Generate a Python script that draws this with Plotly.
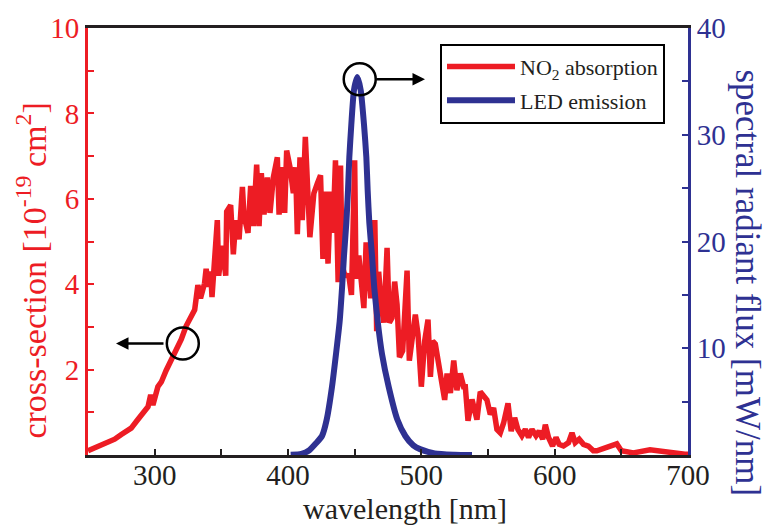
import plotly.graph_objects as go

# ---- data ----
no2_nm = [250, 260, 270, 275, 282.4, 287.4, 292.4, 295, 297, 298.7, 302.4, 305, 308.6, 312.4, 316, 320,
          323.6, 327.4, 330, 332.4, 334.4, 337.4, 338.6, 340.3, 342, 343, 344.5, 347, 348, 350.8, 353.3,
          354, 357, 359, 360.8, 363.3, 365.8, 367, 370, 372, 374, 376.5, 378.3, 380, 382, 384.5, 386.5,
          389, 392, 393.3, 395.8, 397.5, 399, 401.5, 404, 405.7, 407, 409, 410.7, 413, 416.4, 419.4, 422,
          424.4, 426.2, 428.2, 430, 432, 433.7, 435.6, 437.6, 439.4, 440.6, 442.6, 445.6, 447.6, 450, 451,
          453.1, 455, 456.9, 458.6, 460.1, 462, 463.6, 465.1, 466.5, 468, 470, 471.8, 474.3, 476, 478, 480,
          481.8, 483.6, 486, 489.3, 491, 493.6, 495.5, 497.5, 500, 502.5, 505, 506.8, 508.5, 510.5, 513,
          515.5, 517.5, 519.3, 521.8, 524.3, 526.7, 529.2, 531.7, 533, 535, 538, 541.7, 544.2, 546.7,
          549.2, 551.7, 554.2, 556.7, 559.2, 561.7, 565, 567.4, 570, 572.4, 575.4, 578, 580.4, 583, 586,
          588.4, 591, 593, 595.4, 598.4, 601, 603.4, 606.6, 610.4, 613, 615.4, 618.4, 621.6, 625.3, 629,
          631.6, 639, 646.6, 650, 659, 671.5, 684, 697.7, 700]
no2_xs = [0.10, 0.22, 0.37, 0.48, 0.63, 0.83, 1.02, 1.13, 1.41, 1.17, 1.60, 1.71, 1.98, 2.21, 2.48, 2.71,
          3.02, 3.25, 3.40, 3.98, 3.67, 4.02, 4.36, 3.94, 4.30, 3.70, 4.60, 5.50, 4.20, 4.90, 4.20,
          5.70, 5.85, 4.70, 5.50, 5.05, 6.28, 5.60, 5.20, 6.30, 5.36, 6.80, 5.36, 6.60, 5.63, 6.50, 5.67,
          6.50, 6.97, 5.63, 6.74, 5.67, 7.13, 6.74, 6.13, 6.74, 5.17, 6.97, 5.50, 7.45, 5.10, 6.13, 6.36,
          6.55, 4.59, 6.17, 4.48, 6.17, 5.20, 6.90, 4.05, 6.78, 4.44, 4.21, 4.20, 3.75, 6.90, 4.13,
          4.67, 3.90, 3.44, 4.98, 4.29, 3.67, 4.13, 5.50, 2.90, 4.29, 3.50, 3.10, 4.85, 3.10, 3.21, 4.06,
          3.52, 2.29, 2.44, 4.32, 2.21, 2.90, 3.29, 2.83, 1.60, 2.67, 3.17, 1.83, 2.67, 2.60, 2.06,
          1.68, 1.29, 1.91, 1.45, 2.21, 1.52, 1.91, 1.60, 1.60, 0.80, 1.30, 0.83, 1.48, 1.37,
          1.29, 0.95, 1.10, 0.60, 0.52, 0.75, 1.21, 0.56, 0.87, 0.60, 0.45, 0.60, 0.41, 0.60, 0.45,
          0.56, 0.37, 0.71, 0.41, 0.21, 0.41, 0.25, 0.21, 0.29, 0.52, 0.29, 0.37, 0.25, 0.21, 0.10,
          0.10, 0.18, 0.26, 0.10, 0.05, 0.12, 0.06, 0.02, 0.02]

led_nm = [402, 410, 416, 421, 425.5, 429, 433, 436, 438.75, 440.5, 442, 443.75, 445, 446, 447.5, 449.5,
          452, 454.5, 457, 458.75, 459.75, 461, 463, 464.75, 467.25, 470.5, 475.5, 482, 488, 494, 499,
          510, 525, 538]
led_flux = [0.02, 0.1, 0.45, 1.1, 1.78, 3.3, 6.39, 9.46, 12.53, 15.6, 18.68, 21.75, 24.8, 27.9, 30.97, 34.2,
            35.4, 34.2, 30.97, 27.9, 24.8, 21.75, 18.68, 15.6, 12.53, 9.46, 6.39, 3.32, 1.78, 0.9, 0.55,
            0.15, 0.03, 0.0]

x_ticks = [300, 400, 500, 600, 700]
x_minor = [350, 450, 550, 650]
y1_ticks = [2, 4, 6, 8, 10]
y1_minor = [1, 3, 5, 7, 9]
y2_ticks = [10, 20, 30, 40]
y2_minor = [5, 15, 25, 35]

RED = "#ED1C24"
BLUE = "#2E3192"
BLACK = "#231F20"
FONT = "Liberation Serif"

fig = go.Figure()
fig.add_trace(go.Scatter(x=no2_nm, y=no2_xs, mode="lines", name="NO<sub>2</sub> absorption",
                         line=dict(color=RED, width=5.5), legendgroup="a"))
fig.add_trace(go.Scatter(x=led_nm, y=led_flux, mode="lines", name="LED emission", yaxis="y2",
                         line=dict(color=BLUE, width=6, shape="spline", smoothing=0.6), legendgroup="b"))

fig.update_layout(
    width=769, height=527,
    margin=dict(l=88, r=81, t=22, b=72),
    paper_bgcolor="white", plot_bgcolor="white",
    font=dict(family=FONT, size=29, color=BLACK),
    showlegend=True,
    legend=dict(x=(440 - 88) / 600, y=(455 - 38) / 433, xanchor="left", yanchor="top",
                bordercolor="black", borderwidth=2, bgcolor="white",
                font=dict(family=FONT, size=22, color=BLACK),
                itemwidth=68, tracegroupgap=2),
    xaxis=dict(range=[250, 700], tickmode="array", tickvals=x_ticks, ticktext=[str(v) for v in x_ticks],
               ticks="inside", ticklen=6, tickwidth=2, tickcolor=BLACK, ticklabelstandoff=-8,
               minor=dict(tickmode="array", tickvals=x_minor, ticks="inside", ticklen=6, tickwidth=2, tickcolor=BLACK),
               showline=True, linecolor=BLACK, linewidth=3, mirror=True,
               showgrid=False, zeroline=False, tickfont=dict(size=29, color=BLACK)),
    yaxis=dict(range=[0, 10], tickmode="array", tickvals=y1_ticks, ticktext=[str(v) for v in y1_ticks],
               ticks="inside", ticklen=6, tickwidth=2, tickcolor=RED,
               minor=dict(tickmode="array", tickvals=y1_minor, ticks="inside", ticklen=6, tickwidth=2, tickcolor=RED),
               showline=True, linecolor=RED, linewidth=3,
               showgrid=False, zeroline=False, tickfont=dict(size=29, color=RED)),
    yaxis2=dict(range=[0, 40], overlaying="y", side="right", tickmode="array", tickvals=y2_ticks,
                ticktext=[str(v) for v in y2_ticks],
                ticks="inside", ticklen=6, tickwidth=2, tickcolor=BLUE,
                minor=dict(tickmode="array", tickvals=y2_minor, ticks="inside", ticklen=6, tickwidth=2, tickcolor=BLUE),
                showline=True, linecolor=BLUE, linewidth=3,
                showgrid=False, zeroline=False, tickfont=dict(size=29, color=BLUE)),
)

# axis titles
fig.add_annotation(text="wavelength [nm]", xref="paper", yref="paper", x=(405 - 88) / 600, y=-0.125,
                   xanchor="center", yanchor="middle", showarrow=False,
                   font=dict(family=FONT, size=30, color=BLACK))
fig.add_annotation(text="cross-section [10<sup>-19</sup> cm<sup>2</sup>]", xref="paper", yref="paper",
                   x=(31 - 88) / 600, y=(455 - 268) / 433, xanchor="center", yanchor="middle",
                   textangle=-90, showarrow=False,
                   font=dict(family=FONT, size=34, color=RED))
fig.add_annotation(text="spectral radiant flux [mW/nm]", xref="paper", yref="paper",
                   x=(748 - 88) / 600, y=(455 - 280) / 433, xanchor="center", yanchor="middle",
                   textangle=90, showarrow=False,
                   font=dict(family=FONT, size=35, color=BLUE))

# circle markers + arrows indicating which axis each curve belongs to
for cx, cy in [(453.8, 8.8), (321.1, 2.61)]:
    fig.add_shape(type="circle", xref="x", yref="y", xsizemode="pixel", ysizemode="pixel",
                  xanchor=cx, yanchor=cy, x0=-16, x1=16, y0=-16, y1=16,
                  line=dict(color="black", width=2.5))
fig.add_annotation(x=502.75, y=8.8, xref="x", yref="y", ax=-50, ay=0, text="", showarrow=True,
                   arrowhead=2, arrowsize=1, arrowwidth=2.5, arrowcolor="black")
fig.add_annotation(x=271, y=2.61, xref="x", yref="y", ax=49, ay=0, text="", showarrow=True,
                   arrowhead=2, arrowsize=1, arrowwidth=2.5, arrowcolor="black")

fig.write_html("out.html")
